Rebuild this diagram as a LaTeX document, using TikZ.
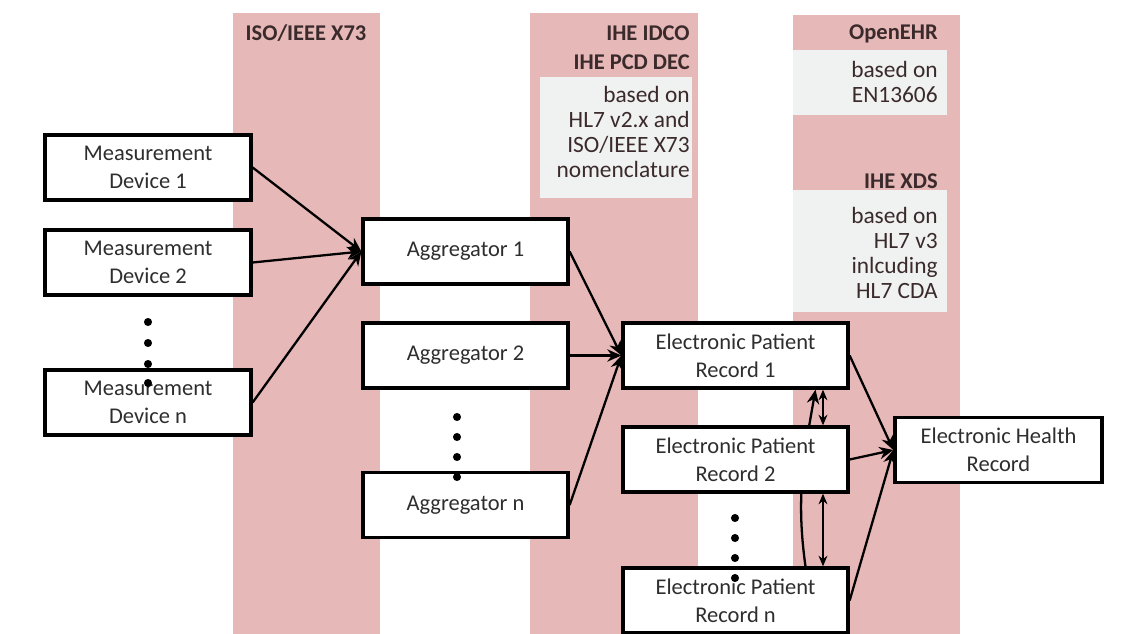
\documentclass[tikz,border=0pt]{standalone}
\usepackage{fontspec}
\setmainfont{Carlito}
\usepackage{xcolor}
\usetikzlibrary{arrows.meta}

\definecolor{bandred}{HTML}{E6B8B7}
\definecolor{notegray}{HTML}{F0F1F1}
\definecolor{headink}{HTML}{3A2A2C}
\definecolor{boxink}{HTML}{2E2E2E}

\pgfdeclarelayer{back}
\pgfsetlayers{back,main}

\begin{document}
\begin{tikzpicture}[x=0.02cm, y=-0.02cm,
    unit/.style={draw, line width=1.9pt, fill=white, text=boxink, align=center,
        minimum height=1.3cm, inner sep=2pt, font=\fontsize{12.8}{15.8}\selectfont},
    head/.style={text=headink, inner sep=0pt, font=\bfseries\fontsize{12.8}{15}\selectfont},
    note/.style={text=headink, align=right, inner sep=0pt, font=\fontsize{13.3}{14.3}\selectfont},
    flow/.style={line width=1.3pt, -{Stealth[length=8pt,width=7pt]}},
    twoway/.style={line width=1.3pt, {Stealth[length=6pt,width=5pt]}-{Stealth[length=6pt,width=5pt]}}]

    \def \bandTop {13}
    \def \bandBottom {634}

    \useasboundingbox (0,0) rectangle (1135,634);

    %bands and notes
    \begin{pgfonlayer}{back}
        \fill[bandred] (233,\bandTop) rectangle (380,\bandBottom);
        \fill[bandred] (530,\bandTop) rectangle (698,\bandBottom);
        \fill[bandred] (793,15) rectangle (960,\bandBottom);
        \fill[notegray] (540,77) rectangle (692,198);
        \fill[notegray] (793,50) rectangle (947,115);
        \fill[notegray] (793,190) rectangle (947,312);
    \end{pgfonlayer}

    \node[head] (x73) at (306,33) {ISO/IEEE X73};
    \node[head, anchor=east] (idco) at (690,33) {IHE IDCO};
    \node[head, anchor=east] (pcd) at (690,62) {IHE PCD DEC};
    \node[note, anchor=north east] (hl7two) at (690,86) {based on\\HL7 v2.x and\\ISO/IEEE X73\\nomenclature};
    \node[head, anchor=east] (openehr) at (938,34) {OpenEHR};
    \node[note, anchor=north east] (en) at (938,61) {based on\\EN13606};
    \node[head, anchor=east] (xds) at (938,181) {IHE XDS};
    \node[note, anchor=north east] (hl7three) at (938,207) {based on\\HL7 v3\\inlcuding\\HL7 CDA};

    %devices
    \node[unit, minimum width=4.12cm] (md1) at (148,167.5) {Measurement\\Device 1};
    \node[unit, minimum width=4.12cm] (md2) at (148,262.5) {Measurement\\Device 2};
    \node[unit, minimum width=4.12cm] (mdn) at (148,402.5) {Measurement\\Device n};

    %aggregators
    \node[unit, minimum width=4.1cm] (ag1) at (465.5,251.5) {Aggregator 1};
    \node[unit, minimum width=4.1cm] (ag2) at (465.5,355.5) {Aggregator 2};
    \node[unit, minimum width=4.1cm] (agn) at (465.5,505) {Aggregator n};

    %records
    \node[unit, minimum width=4.5cm] (epr1) at (735.5,355.5) {Electronic Patient\\Record 1};
    \node[unit, minimum width=4.5cm] (epr2) at (735.5,459.5) {Electronic Patient\\Record 2};
    \node[unit, minimum width=4.5cm] (eprn) at (735.5,600.5) {Electronic Patient\\Record n};
    \node[unit, minimum width=4.14cm] (ehr) at (998.5,450) {Electronic Health\\Record};

    \foreach \y in {322,343,364,383} \fill (148,\y) circle (2.3pt);
    \foreach \y in {417,437,457,477} \fill (457,\y) circle (2.3pt);
    \foreach \y in {518,538,558,578} \fill (735,\y) circle (2.3pt);

    \foreach \src in {md1,md2,mdn} \draw[flow] (\src.east) -- (ag1.west);
    \foreach \src in {ag1,ag2,agn} \draw[flow] (\src.east) -- (epr1.west);
    \foreach \src in {epr1,epr2,eprn} \draw[flow] (\src.east) -- (ehr.west);

    %links between records
    \begin{pgfonlayer}{back}
        \draw[flow] ([xshift=1.4cm]eprn.north) to[out=98, in=-100] ([xshift=1.6cm]epr1.south);
    \end{pgfonlayer}
    \draw[twoway] ([xshift=1.75cm]epr2.north) -- ([xshift=1.75cm]epr1.south);
    \draw[twoway] ([xshift=1.75cm]eprn.north) -- ([xshift=1.75cm]epr2.south);
\end{tikzpicture}
\end{document}
